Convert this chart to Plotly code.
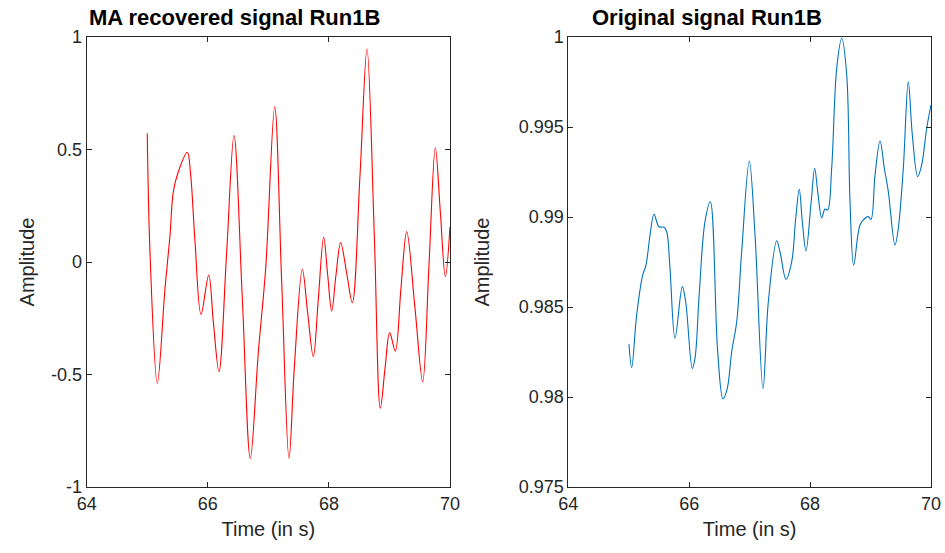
import plotly.graph_objects as go

# ---- data: MA recovered signal (left) ----
t_ma = [65.0, 65.045, 65.166, 65.293, 65.376, 65.43, 65.513, 65.662, 65.717, 65.789,
        65.888, 66.015, 66.091, 66.185, 66.312, 66.433, 66.57, 66.702, 66.835, 66.956,
        67.105, 67.22, 67.341, 67.428, 67.561, 67.65, 67.743, 67.826, 67.914, 67.98,
        68.046, 68.117, 68.194, 68.294, 68.387, 68.514, 68.629, 68.75, 68.849, 68.927,
        69.004, 69.097, 69.19, 69.285, 69.422, 69.549, 69.653, 69.758, 69.84, 69.923, 70.0]
a_ma = [0.572, 0.046, -0.539, -0.117, 0.12, 0.312, 0.401, 0.488, 0.387, 0.09,
        -0.233, -0.058, -0.265, -0.487, 0.046, 0.562, -0.161, -0.873, -0.399, -0.028,
        0.690, -0.088, -0.873, -0.473, -0.032, -0.228, -0.421, -0.161, 0.110, -0.058,
        -0.218, -0.058, 0.086, -0.05, -0.181, 0.387, 0.947, 0.12, -0.650, -0.473,
        -0.314, -0.396, -0.117, 0.135, -0.206, -0.532, -0.013, 0.508, 0.224, -0.065, 0.157]

# ---- data: original signal (right) ----
t_org = [65.004, 65.049, 65.131, 65.231, 65.285, 65.352, 65.418, 65.5, 65.583, 65.628,
         65.682, 65.765, 65.886, 65.942, 66.051, 66.096, 66.167, 66.261, 66.349, 66.471,
         66.559, 66.63, 66.703, 66.786, 66.868, 66.994, 67.089, 67.221, 67.309, 67.447,
         67.502, 67.601, 67.696, 67.762, 67.821, 67.871, 67.932, 68.015, 68.076, 68.126,
         68.192, 68.246, 68.291, 68.357, 68.44, 68.523, 68.606, 68.66, 68.721, 68.826,
         68.909, 68.963, 69.008, 69.074, 69.157, 69.228, 69.294, 69.404, 69.459, 69.542,
         69.624, 69.691, 69.78, 69.846, 69.929, 70.0]
a_org = [0.98293, 0.98163, 0.98456, 0.98678, 0.98733, 0.98900, 0.99015, 0.98946, 0.98943, 0.98918,
         0.98715, 0.98326, 0.98613, 0.98529, 0.98159, 0.98215, 0.98580, 0.98974, 0.99085, 0.98252,
         0.97989, 0.98048, 0.98252, 0.98418, 0.98807, 0.99311, 0.98900, 0.98048, 0.98529, 0.98868,
         0.98807, 0.98654, 0.98752, 0.98993, 0.99154, 0.98974, 0.98811, 0.99074, 0.99271, 0.99141,
         0.98996, 0.99044, 0.99039, 0.99271, 0.99826, 0.99993, 0.99789, 0.99085, 0.98733, 0.98956,
         0.98993, 0.99002, 0.98987, 0.99233, 0.99422, 0.99271, 0.99141, 0.98844, 0.98937, 0.99271,
         0.99752, 0.99456, 0.99224, 0.99289, 0.99493, 0.99622]

x_ticks = [64, 66, 68, 70]
x_ticktext = ["64", "66", "68", "70"]
y1_ticks = [-1, -0.5, 0, 0.5, 1]
y1_ticktext = ["-1", "-0.5", "0", "0.5", "1"]
y2_ticks = [0.975, 0.98, 0.985, 0.99, 0.995, 1.0]
y2_ticktext = ["0.975", "0.98", "0.985", "0.99", "0.995", "1"]

titles = ["MA recovered signal Run1B", "Original signal Run1B"]
xlabel = "Time (in s)"
ylabel = "Amplitude"

FONT = "Liberation Sans, Arial, Helvetica, sans-serif"
AX = "#262626"
W, H = 945, 553

fig = go.Figure()
fig.add_trace(go.Scatter(x=t_ma, y=a_ma, mode="lines", line=dict(color="#ff0000", width=1.1, shape="spline"),
                         xaxis="x", yaxis="y", showlegend=False, hoverinfo="skip"))
fig.add_trace(go.Scatter(x=t_org, y=a_org, mode="lines", line=dict(color="#0072bd", width=1.1, shape="spline"),
                         xaxis="x2", yaxis="y2", showlegend=False, hoverinfo="skip"))

y_dom = [1 - 487 / H, 1 - 37 / H]
common = dict(showline=True, linecolor=AX, linewidth=1, mirror="ticks", ticks="inside",
              ticklen=5, tickcolor=AX, tickwidth=1, showgrid=False, zeroline=False,
              automargin=False, tickfont=dict(family=FONT, size=18, color=AX))
tfont = dict(family=FONT, size=20, color=AX)

fig.update_layout(
    width=W, height=H, margin=dict(l=0, r=0, t=0, b=0),
    paper_bgcolor="white", plot_bgcolor="white",
    xaxis=dict(domain=[86.7 / W, 450 / W], range=[64, 70], tickvals=x_ticks, ticktext=x_ticktext,
               anchor="y", title=dict(text=xlabel, font=tfont, standoff=9), **common),
    yaxis=dict(domain=y_dom, range=[-1, 1], tickvals=y1_ticks, ticktext=y1_ticktext, anchor="x",
               title=dict(text=ylabel, font=tfont, standoff=11), **common),
    xaxis2=dict(domain=[568.3 / W, 931 / W], range=[64, 70], tickvals=x_ticks, ticktext=x_ticktext,
                anchor="y2", title=dict(text=xlabel, font=tfont, standoff=9), **common),
    yaxis2=dict(domain=y_dom, range=[0.975, 1.0], tickvals=y2_ticks, ticktext=y2_ticktext, anchor="x2",
                title=dict(text=ylabel, font=tfont, standoff=23), **common),
    annotations=[
        dict(text="<b>" + titles[0] + "</b>", x=87 / W, y=1 - 17 / H, xref="paper", yref="paper",
             xanchor="left", yanchor="middle", showarrow=False,
             font=dict(family=FONT, size=22, color="black")),
        dict(text="<b>" + titles[1] + "</b>", x=590 / W, y=1 - 17 / H, xref="paper", yref="paper",
             xanchor="left", yanchor="middle", showarrow=False,
             font=dict(family=FONT, size=22, color="black")),
    ],
)

fig.write_html("out.html")
